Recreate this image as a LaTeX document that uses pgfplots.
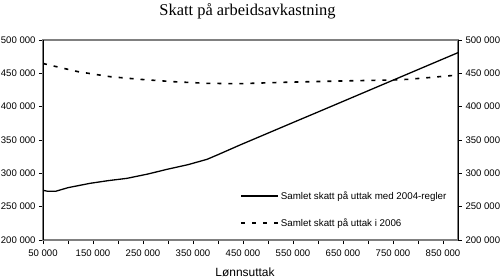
\documentclass[border=0pt]{standalone}
\usepackage{pgfplots}
\pgfplotsset{compat=1.18}
\usepackage{fontspec}
\setmainfont{Liberation Sans}
\newfontfamily\titlefont{Liberation Serif}
\begin{document}
\begin{tikzpicture}
\path[use as bounding box] (-43bp,-37bp) rectangle (457bp,240bp);
\begin{axis}[
  scale only axis, width=415bp, height=200bp,
  xmin=50000, xmax=880000, ymin=200000, ymax=500000,
  xtick={50000,150000,...,850000},
  minor xtick={100000,200000,...,800000},
  ytick={200000,250000,...,500000},
  scaled ticks=false,
  tick align=outside, xtick pos=bottom, ytick pos=left,
  major tick length=4bp, minor tick length=4bp,
  every tick/.style={black, line width=0.6pt},
  every minor tick/.style={black, line width=0.6pt},
  axis line style={gray, line width=1.2pt},
  ticklabel style={font=\fontsize{9.6}{11}\selectfont},
  xticklabel style={yshift=-2bp},
  /pgf/number format/assume math mode=true,
  /pgf/number format/1000 sep={\ },
  /pgf/number format/fixed,
  /pgf/number format/precision=0,
  legend style={draw=none, fill=none, at={(axis description cs:0.475,0.255)}, anchor=north west,
    font=\fontsize{9.8}{11}\selectfont, row sep=14bp, inner sep=0pt},
  legend cell align=left,
  legend image code/.code={\draw[#1] (0bp,0bp) -- (37bp,0bp);},
]
\addplot[black, line width=1.3pt] coordinates {
(50000,274500) (60000,273000) (75000,273000) (100000,278500) (144000,285000)
(180000,289000) (218000,292500) (260000,299000) (298000,306000) (340000,313000)
(378000,321000) (400000,328000) (444000,342500) (500000,360300) (550000,376200)
(600000,392000) (650000,407900) (700000,423800) (750000,439700) (800000,455600)
(850000,471500) (880000,481000)
};
\addlegendentry{Samlet skatt på uttak med 2004-regler}
\addplot[black, line width=1.6pt, dash pattern=on 4bp off 7bp] coordinates {
(50000,465000) (54000,464000) (120000,452500) (184000,445000) (244000,441000)
(310000,437500) (378000,435000) (444000,434500) (530000,436500) (644000,438500)
(744000,440000) (780000,441000) (820000,443500) (870000,446800)
};
\addlegendentry{Samlet skatt på uttak i 2006}
\draw[black, line width=0.8pt] (rel axis cs:0,0) -- (rel axis cs:0,1);
\end{axis}
\begin{axis}[
  scale only axis, width=415bp, height=200bp,
  xmin=50000, xmax=880000, ymin=200000, ymax=500000,
  axis x line=none, axis y line*=right,
  ytick={200000,250000,...,500000},
  scaled ticks=false,
  tick align=outside,
  major tick length=4bp,
  every tick/.style={black, line width=0.6pt},
  axis line style={black, line width=0.8pt, -},
  ticklabel style={font=\fontsize{9.6}{11}\selectfont},
  /pgf/number format/assume math mode=true,
  /pgf/number format/1000 sep={\ },
  /pgf/number format/fixed,
  /pgf/number format/precision=0,
]
\addplot[draw=none] coordinates {(50000,200000)};
\end{axis}
\node[anchor=base, font=\titlefont\fontsize{16.5}{18}\selectfont] at (204.5bp,224bp) {Skatt på arbeidsavkastning};
\node[anchor=base, font=\fontsize{12}{14}\selectfont] at (202bp,-36bp) {Lønnsuttak};
\end{tikzpicture}
\end{document}
